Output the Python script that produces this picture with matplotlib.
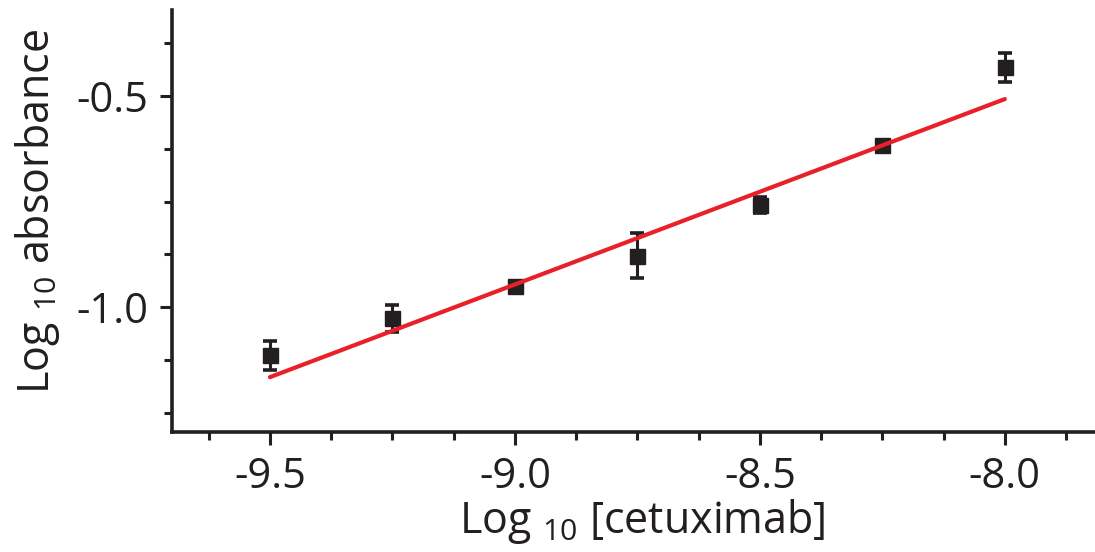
import matplotlib
matplotlib.use("Agg")
import matplotlib.pyplot as plt
from matplotlib.ticker import MultipleLocator

plt.rcParams['font.family'] = ['Open Sans', 'DejaVu Sans']
plt.rcParams['mathtext.fontset'] = 'custom'
plt.rcParams['mathtext.rm'] = 'Open Sans'
plt.rcParams['mathtext.it'] = 'Open Sans'
plt.rcParams['mathtext.bf'] = 'Open Sans'

# Data
log_conc = [-9.5, -9.25, -9.0, -8.75, -8.5, -8.25, -8.0]
log_abs = [-1.114, -1.027, -0.949, -0.878, -0.757, -0.616, -0.432]
log_abs_err = [0.034, 0.032, 0.008, 0.053, 0.019, 0.008, 0.034]
fit_x = [-9.5, -8.0]
fit_y = [-1.166, -0.507]
xticks = [-9.5, -9.0, -8.5, -8.0]
yticks = [-1.0, -0.5]

W, H = 1095, 552
fig = plt.figure(figsize=(W / 100, H / 100), dpi=100)
ax = fig.add_axes([172 / W, 1 - 432 / H, (W - 172) / W, (432 - 10) / H])

dark = '#231f20'
ax.plot(fit_x, fit_y, color='#e8202a', lw=3.0, zorder=3, solid_capstyle='round')
ax.errorbar(log_conc, log_abs, yerr=log_abs_err, fmt='s', color=dark,
            markersize=10.8, ecolor=dark, elinewidth=2.2, capsize=5,
            capthick=2.6, zorder=2)

ax.set_xlim(-9.7, -7.816)
ax.set_ylim(-1.296, -0.296)
ax.set_xticks(xticks)
ax.set_yticks(yticks)
ax.set_xticklabels([f"{v:.1f}" for v in xticks])
ax.set_yticklabels([f"{v:.1f}" for v in yticks])
ax.xaxis.set_minor_locator(MultipleLocator(0.125))
ax.yaxis.set_minor_locator(MultipleLocator(0.125))

for s in ['top', 'right']:
    ax.spines[s].set_visible(False)
for s in ['left', 'bottom']:
    ax.spines[s].set_linewidth(2.6)
    ax.spines[s].set_color(dark)

ax.tick_params(which='major', direction='out', length=9, width=2.2,
               color=dark, labelsize=30, labelcolor=dark, pad=8)
ax.tick_params(which='minor', direction='out', length=6, width=2.2, color=dark)

fig.text(642 / W, 1 - 522 / H, r'Log $_{10}$ [cetuximab]', fontsize=31,
         color=dark, ha='center', va='center')
fig.text(38 / W, 1 - 211 / H, r'Log $_{10}$ absorbance', fontsize=31,
         color=dark, ha='center', va='center', rotation=90)

fig.savefig('out.png', dpi=100)
